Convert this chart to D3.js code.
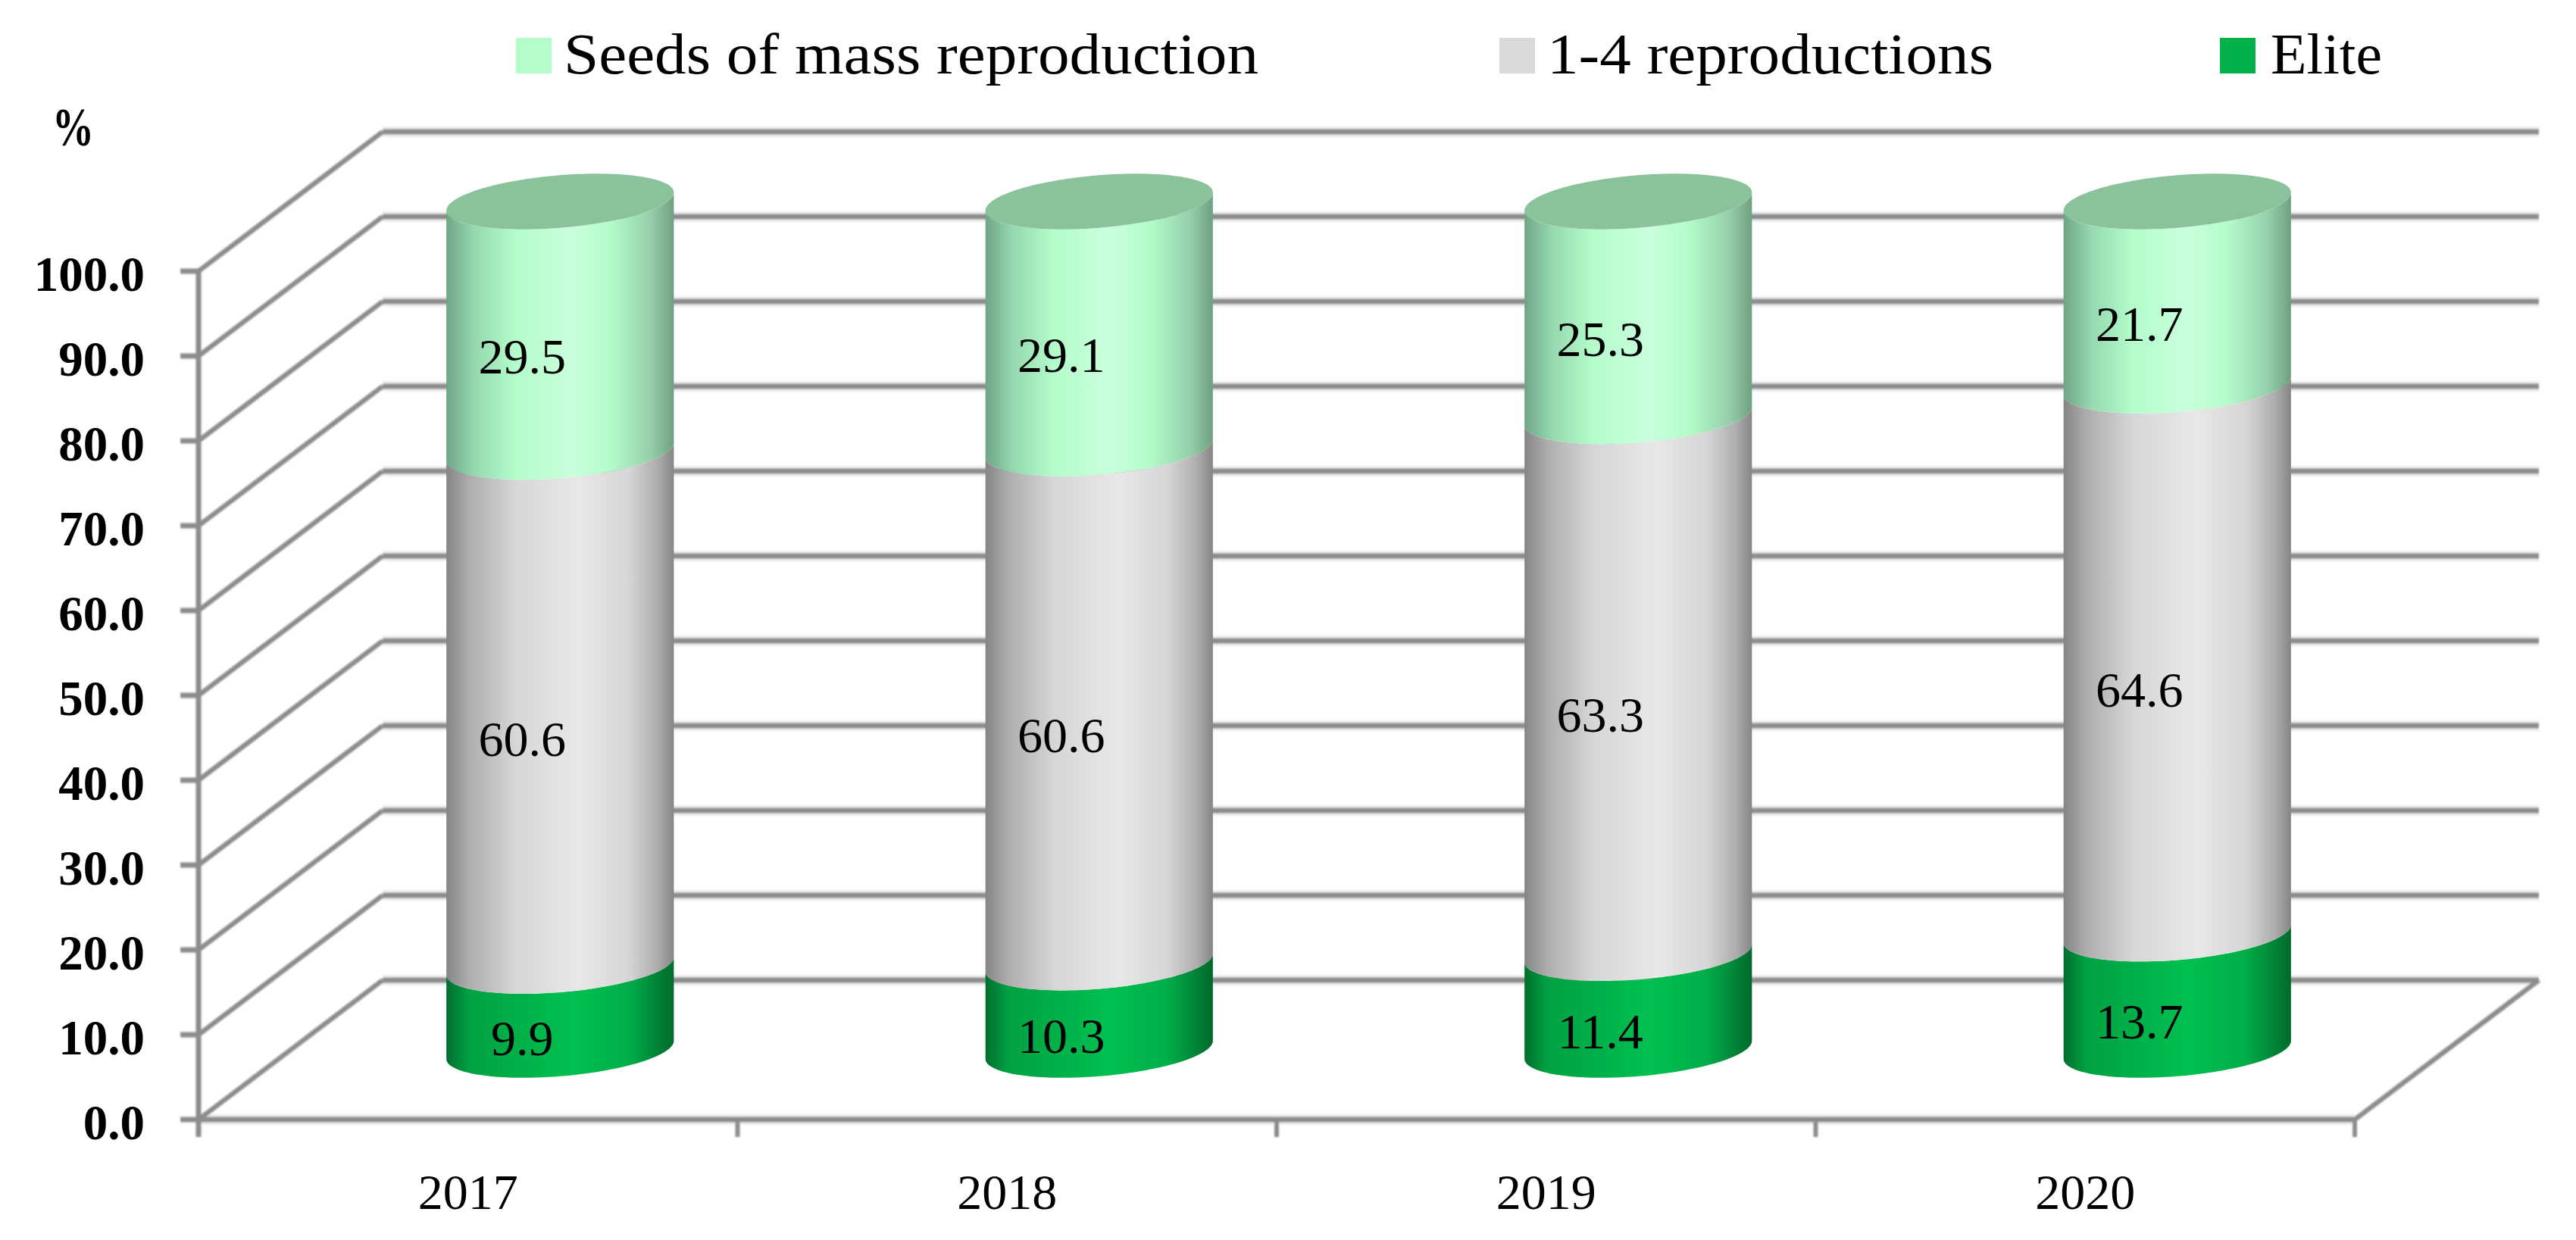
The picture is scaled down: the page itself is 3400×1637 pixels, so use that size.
<!DOCTYPE html>
<html lang="en">

<head>
    <meta charset="UTF-8">
    <title>Seed reproductions</title>
    <script src="https://d3js.org/d3.v7.min.js"></script>
    <style>
        body { margin: 0; background: #fff; }
        svg { display: block; }
        text { font-family: "Liberation Serif", serif; fill: #000; }
    </style>
</head>

<body>
    <svg></svg>
    <script>

        const years = ["2017", "2018", "2019", "2020"];
        const yTicks = [0, 10, 20, 30, 40, 50, 60, 70, 80, 90, 100];

        // stacked bottom to top
        const seriesNames = ["Elite", "1-4 reproductions", "Seeds of mass reproduction"];
        const elite = [9.9, 10.3, 11.4, 13.7];
        const reproductions = [60.6, 60.6, 63.3, 64.6];
        const massSeeds = [29.5, 29.1, 25.3, 21.7];
        const seriesValues = [elite, reproductions, massSeeds];

        const legendOrder = ["Seeds of mass reproduction", "1-4 reproductions", "Elite"];

        const swatch = { "Elite": "#00b24a", "1-4 reproductions": "#d9d9d9", "Seeds of mass reproduction": "#b4fdcb" };
        const gradients = {
            "Elite": [[0, "#006e2e"], [.1, "#00a142"], [.55, "#00c050"], [.8, "#00ae48"], [1, "#006a2c"]],
            "1-4 reproductions": [[0, "#858585"], [.1, "#adadad"], [.3, "#d6d6d6"], [.58, "#e8e8e8"], [.8, "#d6d6d6"], [.93, "#adadad"], [1, "#858585"]],
            "Seeds of mass reproduction": [[0, "#6fa586"], [.12, "#95d8af"], [.3, "#b4fccb"], [.55, "#c9ffdc"], [.72, "#b4fccb"], [.9, "#95cfaa"], [1, "#6fa080"]]
        };

        const width = 3400, height = 1637;

        const svg = d3.select("svg").attr("width", width).attr("height", height);

        const x = d3.scaleBand().domain(years).range([262, 3108]);
        const y = d3.scaleLinear().domain([0, 100]).range([1478, 358]);

        // oblique depth of the 3d box
        const depthX = 243, depthY = 184;
        const px = (xv, z) => xv + z * depthX;
        const py = (v, z) => y(v) - z * depthY;

        const gridColor = "#8c8c8c", haloColor = "#ededed";

        const defs = svg.append("defs");
        seriesNames.forEach((name, i) => {
            defs.append("linearGradient").attr("id", "grad" + i)
                .selectAll("stop")
                .data(gradients[name])
                .join("stop")
                .attr("offset", d => d[0])
                .attr("stop-color", d => d[1]);
        });
        defs.append("filter").attr("id", "soft").append("feGaussianBlur").attr("stdDeviation", 0.8);

        // grid
        const grid = svg.append("g").attr("filter", "url(#soft)");
        const x0 = x.range()[0], x1 = x.range()[1];

        function seg(a, b, c, d, w) {
            grid.append("line").attr("x1", a).attr("y1", b).attr("x2", c).attr("y2", d)
                .attr("stroke", gridColor).attr("stroke-width", w);
        }

        // pale halo behind back wall lines
        grid.selectAll("line.halo")
            .data(yTicks)
            .join("line")
            .attr("class", "halo")
            .attr("x1", px(x0, 1)).attr("x2", px(x1, 1))
            .attr("y1", d => py(d, 1)).attr("y2", d => py(d, 1))
            .attr("stroke", haloColor).attr("stroke-width", 14);
        grid.append("line")
            .attr("x1", x0).attr("x2", x1).attr("y1", y(0)).attr("y2", y(0))
            .attr("stroke", haloColor).attr("stroke-width", 14);

        yTicks.forEach(t => {
            seg(px(x0, 1), py(t, 1), px(x1, 1), py(t, 1), 7);
            seg(x0, y(t), px(x0, 1), py(t, 1), 6.5);
            seg(x0 - 24, y(t), x0, y(t), 7);
        });
        seg(x0, y(0), x1, y(0), 7);
        seg(x1, y(0), px(x1, 1), py(0, 1), 6.5);
        seg(x0, y(100), x0, y(0) + 23, 7);
        x.domain().concat("end").forEach(d => {
            const xp = d === "end" ? x1 : x(d);
            seg(xp, y(0), xp, y(0) + 23, 6);
        });

        // cylinders, elliptical cross-section in the same oblique projection
        const radiusX = 142, radiusZ = 0.2;
        const tiltT = Math.atan2(radiusZ * depthX, radiusX);
        const line = d3.line();

        function ringPoint(cx, v, t) {
            return [
                px(cx, 0.5) + radiusX * Math.cos(t) + radiusZ * depthX * Math.sin(t),
                py(v, 0.5) - radiusZ * depthY * Math.sin(t)
            ];
        }

        // front half of the ring, from right silhouette to left silhouette, through the front
        function frontArc(cx, v, reverse) {
            const start = tiltT, stop = tiltT - Math.PI;
            const pts = d3.range(0, 61).map(i => ringPoint(cx, v, start + (stop - start) * i / 60));
            return reverse ? pts.reverse() : pts;
        }

        const cylinders = svg.append("g");
        years.forEach((year, c) => {
            const cx = x(year) + x.bandwidth() / 2;
            let base = 0;
            seriesValues.forEach((vals, s) => {
                const top = base + vals[c];
                const pts = frontArc(cx, base, false).concat(frontArc(cx, top, true));
                cylinders.append("path")
                    .attr("d", line(pts) + "Z")
                    .attr("fill", `url(#grad${s})`);
                base = top;
            });
            const ring = d3.range(0, 120).map(i => ringPoint(cx, 100, i / 120 * 2 * Math.PI));
            cylinders.append("path")
                .attr("d", line(ring) + "Z")
                .attr("fill", "#8ac39b");
        });

        // value labels
        const labels = svg.append("g").attr("font-size", 66).attr("text-anchor", "middle");
        years.forEach((year, c) => {
            const cx = x(year) + x.bandwidth() / 2;
            let base = 0;
            seriesValues.forEach(vals => {
                labels.append("text")
                    .attr("x", px(cx, 0.5) - 50)
                    .attr("y", py(base + vals[c] / 2, 0.5) + 62)
                    .text(vals[c].toFixed(1));
                base += vals[c];
            });
        });

        // y tick labels
        svg.append("g").attr("font-size", 65).attr("font-weight", "bold").attr("text-anchor", "end")
            .selectAll("text")
            .data(yTicks)
            .join("text")
            .attr("x", 191)
            .attr("y", d => y(d) + 26)
            .text(d => d.toFixed(1));

        svg.append("text").attr("x", 69).attr("y", 192)
            .attr("font-size", 72).attr("font-weight", "bold")
            .attr("textLength", 55).attr("lengthAdjust", "spacingAndGlyphs")
            .text("%");

        // year labels
        svg.append("g").attr("font-size", 66).attr("text-anchor", "middle")
            .selectAll("text")
            .data(years)
            .join("text")
            .attr("x", d => x(d) + x.bandwidth() / 2)
            .attr("y", 1596)
            .text(d => d);

        // legend
        const legendX = [681, 1979, 2930];
        const legendTextLen = [917, 589, 147];
        const legend = svg.append("g");
        legendOrder.forEach((name, i) => {
            legend.append("rect")
                .attr("x", legendX[i]).attr("y", 50).attr("width", 47).attr("height", 47)
                .attr("fill", swatch[name]);
            legend.append("text")
                .attr("x", legendX[i] + (name === "Elite" ? 67 : 63)).attr("y", 97)
                .attr("font-size", 76)
                .attr("textLength", legendTextLen[i])
                .attr("lengthAdjust", "spacingAndGlyphs")
                .text(name);
        });

    </script>
</body>

</html>
